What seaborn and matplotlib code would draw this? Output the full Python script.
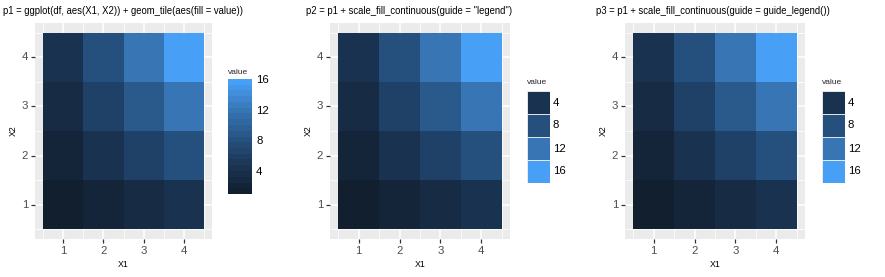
import numpy as np
import pandas as pd
import matplotlib
matplotlib.use("Agg")
import matplotlib.pyplot as plt
import seaborn as sns
from matplotlib.colors import LinearSegmentedColormap, Normalize
from matplotlib.patches import Rectangle

# ---------------- data ----------------
x1_vals = [1, 2, 3, 4, 1, 2, 3, 4, 1, 2, 3, 4, 1, 2, 3, 4]
x2_vals = [1, 1, 1, 1, 2, 2, 2, 2, 3, 3, 3, 3, 4, 4, 4, 4]
values = [1, 2, 3, 4, 2, 4, 6, 8, 3, 6, 9, 12, 4, 8, 12, 16]
axis_ticks = [1, 2, 3, 4]
legend_breaks = [4, 8, 12, 16]
titles = [
    "p1 = ggplot(df, aes(X1, X2)) + geom_tile(aes(fill = value))",
    'p2 = p1 + scale_fill_continuous(guide = "legend")',
    "p3 = p1 + scale_fill_continuous(guide = guide_legend())",
]

df = pd.DataFrame({"X1": x1_vals, "X2": x2_vals, "value": values})
grid = df.pivot(index="X2", columns="X1", values="value").sort_index()

# ---------------- gradient (colour stops as seen in the reference) ----------------
vmin, vmax = min(values), max(values)
stop_vals = [1, 4, 8, 12, 16]
stop_cols = ["#121F2F", "#19324F", "#25507E", "#3775B4", "#479FF6"]
cmap = LinearSegmentedColormap.from_list(
    "gg", [((v - vmin) / (vmax - vmin), c) for v, c in zip(stop_vals, stop_cols)])
norm = Normalize(vmin, vmax)

# ---------------- figure ----------------
sns.set_theme(style="white")
plt.rcParams["font.family"] = ["Liberation Sans", "DejaVu Sans"]

W, H = 885, 277
fig = plt.figure(figsize=(W / 100, H / 100), dpi=100)
fig.patch.set_facecolor("white")


def frac(x0, y0, x1, y1):
    return [x0 / W, 1 - y1 / H, (x1 - x0) / W, (y1 - y0) / H]


panels = [(35, 212), (330, 510), (625, 805)]
title_x = [3, 306, 596]

for i, (l, r) in enumerate(panels):
    ax = fig.add_axes(frac(l, 23, r, 239))
    sns.heatmap(grid, ax=ax, cmap=cmap, vmin=vmin, vmax=vmax, cbar=False,
                linewidths=0)
    ax.set_facecolor("#EBEBEB")
    ax.set_xlim(-0.2, 4.2)
    ax.set_ylim(-0.2, 4.2)
    ax.set_xticks([t - 0.5 for t in axis_ticks])
    ax.set_xticklabels([str(t) for t in axis_ticks], rotation=0)
    ax.set_yticks([t - 0.5 for t in axis_ticks])
    ax.set_yticklabels([str(t) for t in axis_ticks], rotation=0)
    ax.set_xticks([0, 1, 2, 3, 4], minor=True)
    ax.set_yticks([0, 1, 2, 3, 4], minor=True)
    ax.set_axisbelow(True)
    ax.grid(True, which="major", color="white", lw=1.1, zorder=0)
    ax.grid(True, which="minor", color="white", lw=0.55, zorder=0)
    for s in ax.spines.values():
        s.set_visible(False)
    ax.tick_params(which="major", length=3, width=0.9, color="#333333",
                   labelsize=8.2, labelcolor="#4D4D4D", pad=2,
                   bottom=True, left=True)
    ax.tick_params(which="minor", length=0)
    ax.set_xlabel("X1", fontsize=6.3, color="black", labelpad=3)
    ax.set_ylabel("X2", fontsize=6.3, color="black", labelpad=3)
    fig.text(title_x[i] / W, 1 - 11 / H, titles[i], fontsize=6.85,
             ha="left", va="center", color="black")

# ---- colorbar for p1 ----
cax = fig.add_axes(frac(228, 79, 252, 194))
sm = matplotlib.cm.ScalarMappable(norm=norm, cmap=cmap.resampled(20))
cb = fig.colorbar(sm, cax=cax, ticks=legend_breaks)
cb.outline.set_visible(False)
cax.yaxis.set_ticks_position("both")
cax.tick_params(axis="y", direction="in", length=4.5, width=0.8, color="white",
                labelsize=8.2, labelcolor="black", pad=3, left=True, right=True,
                labelleft=False, labelright=True)
fig.text(228 / W, 1 - 73 / H, "value", fontsize=6.0, ha="left", va="center")

# ---- legends for p2 and p3 ----
for lx in (527, 822):
    lax = fig.add_axes(frac(lx, 91, lx + 23, 183))
    lax.set_xlim(0, 1)
    lax.set_ylim(len(legend_breaks), 0)
    lax.axis("off")
    for k, b in enumerate(legend_breaks):
        lax.add_patch(Rectangle((0, k), 1, 1, facecolor=cmap(norm(b)),
                                edgecolor="#F2F2F2", lw=0.6))
        lax.text(1.12, k + 0.5, str(b), fontsize=8.2, ha="left", va="center",
                 color="black")
    fig.text(lx / W, 1 - 83 / H, "value", fontsize=6.0, ha="left", va="center")

fig.savefig("out.png", dpi=100, facecolor="white")
